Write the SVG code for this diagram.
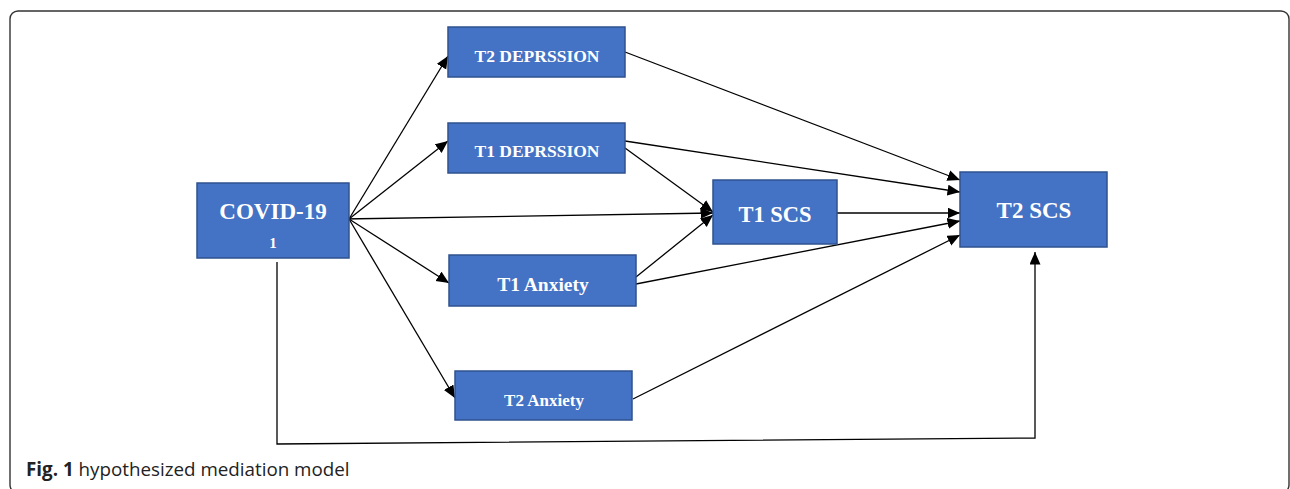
<svg xmlns="http://www.w3.org/2000/svg" width="1290" height="489" viewBox="0 0 1290 489">
<style>
.box{fill:#4472C4;stroke:#2F528F;stroke-width:1.5}
.lbl{fill:#fff;font-family:"Liberation Serif","Times New Roman",serif;font-weight:bold;text-anchor:middle}
.ln{stroke:#000;stroke-width:1.3;fill:none}
.cap{font-family:"Open Sans","Noto Sans",sans-serif;font-size:18.8px;fill:#222}
</style>
<defs>
<marker id="ah" markerUnits="userSpaceOnUse" markerWidth="14" markerHeight="12" refX="12.5" refY="5.5" orient="auto">
<path d="M0,0 L12.5,5.5 L0,11 z" fill="#000"/>
</marker>
</defs>
<rect x="10" y="11" width="1279" height="482" rx="8" fill="#fff" stroke="#333" stroke-width="1.4"/>
<g id="connectors">
<line class="ln" x1="349" y1="219" x2="448" y2="56" marker-end="url(#ah)"/>
<line class="ln" x1="349" y1="219" x2="448" y2="141" marker-end="url(#ah)"/>
<line class="ln" x1="343" y1="219" x2="713" y2="213" marker-end="url(#ah)"/>
<line class="ln" x1="349" y1="219" x2="449" y2="283" marker-end="url(#ah)"/>
<line class="ln" x1="349" y1="219" x2="455" y2="398" marker-end="url(#ah)"/>
<line class="ln" x1="625" y1="52" x2="960" y2="180" marker-end="url(#ah)"/>
<line class="ln" x1="625" y1="141" x2="960" y2="192" marker-end="url(#ah)"/>
<line class="ln" x1="625" y1="148" x2="713" y2="212" marker-end="url(#ah)"/>
<line class="ln" x1="837" y1="213" x2="960" y2="213" stroke-width="1.6" marker-end="url(#ah)"/>
<line class="ln" x1="636" y1="277" x2="713" y2="215" marker-end="url(#ah)"/>
<line class="ln" x1="636" y1="284" x2="960" y2="221" marker-end="url(#ah)"/>
<line class="ln" x1="633" y1="399" x2="960" y2="235" marker-end="url(#ah)"/>
<polyline class="ln" stroke-width="1.5" points="277,262 277,444 1035,438 1035,252" marker-end="url(#ah)"/>
</g>
<g id="covid">
<rect class="box" x="197" y="183" width="152" height="75"/>
<text class="lbl" x="273" y="219" font-size="23">COVID-19</text>
<text class="lbl" x="273" y="248" font-size="15">1</text>
</g>
<g id="t2dep">
<rect class="box" x="448" y="27" width="177" height="50"/>
<text class="lbl" x="537" y="62" font-size="17.5">T2 DEPRSSION</text>
</g>
<g id="t1dep">
<rect class="box" x="448" y="123" width="177" height="50"/>
<text class="lbl" x="537" y="157" font-size="17.5">T1 DEPRSSION</text>
</g>
<g id="t1scs">
<rect class="box" x="713" y="180" width="124" height="64"/>
<text class="lbl" x="775" y="222" font-size="22.5">T1 SCS</text>
</g>
<g id="t2scs">
<rect class="box" x="960" y="172" width="147" height="75"/>
<text class="lbl" x="1034" y="218" font-size="23">T2 SCS</text>
</g>
<g id="t1anx">
<rect class="box" x="449" y="255" width="187" height="51"/>
<text class="lbl" x="543" y="291" font-size="19.5">T1 Anxiety</text>
</g>
<g id="t2anx">
<rect class="box" x="455" y="371" width="177" height="49"/>
<text class="lbl" x="544" y="406" font-size="17">T2 Anxiety</text>
</g>
<text class="cap" x="26" y="476"><tspan font-weight="bold">Fig. 1</tspan> hypothesized mediation model</text>
</svg>
